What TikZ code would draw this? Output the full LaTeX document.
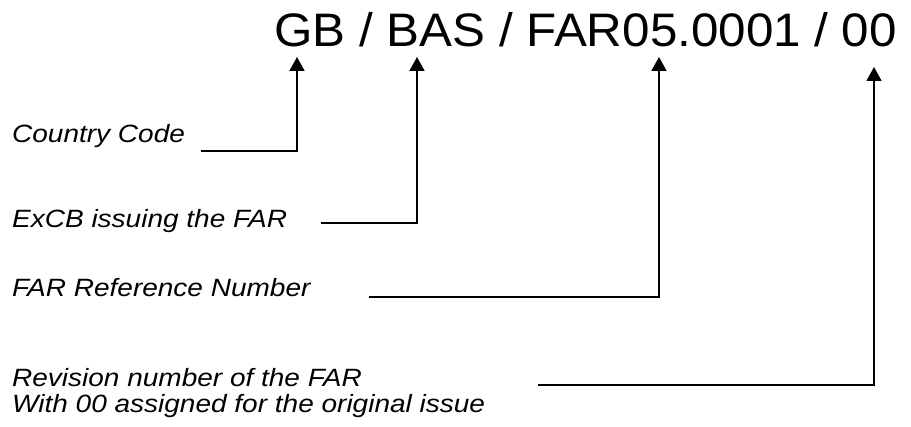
\documentclass[tikz,border=0pt]{standalone}
\usepackage{fontspec}
\setmainfont{Liberation Sans}
\usetikzlibrary{arrows.meta}
\newcommand{\lbltext}[1]{\scalebox{1.12}[1]{\fontsize{25}{30}\selectfont\itshape #1}}
\begin{document}
\begin{tikzpicture}[x=1pt,y=-1pt,
  lbl/.style={anchor=base west, inner sep=0pt},
  conn/.style={line width=1.7pt, -{Triangle[width=15pt,length=14pt]}}]
\useasboundingbox (0,0) rectangle (911,427);
\node[anchor=base west, inner sep=0pt] (title) at (274,47) {\scalebox{1.05}[1]{\fontsize{47}{56}\selectfont GB / BAS / FAR05.0001 / 00}};
\node[lbl] (cc) at (12,143) {\lbltext{Country Code}};
\node[lbl] (ex) at (12,228) {\lbltext{ExCB issuing the FAR}};
\node[lbl] (fr) at (12,297) {\lbltext{FAR Reference Number}};
\node[lbl] (rv) at (12,387) {\lbltext{Revision number of the FAR}};
\node[lbl] (rv2) at (12,413) {\lbltext{With 00 assigned for the original issue}};
\coordinate (ccs) at (201,151);
\coordinate (cct) at (297,57);
\coordinate (exs) at (321,223);
\coordinate (ext) at (417,57);
\coordinate (frs) at (369,297);
\coordinate (frt) at (659,57);
\coordinate (rvs) at (538,385);
\coordinate (rvt) at (874,67);
\draw[conn] (ccs) -| (cct);
\draw[conn] (exs) -| (ext);
\draw[conn] (frs) -| (frt);
\draw[conn] (rvs) -| (rvt);
\end{tikzpicture}
\end{document}
